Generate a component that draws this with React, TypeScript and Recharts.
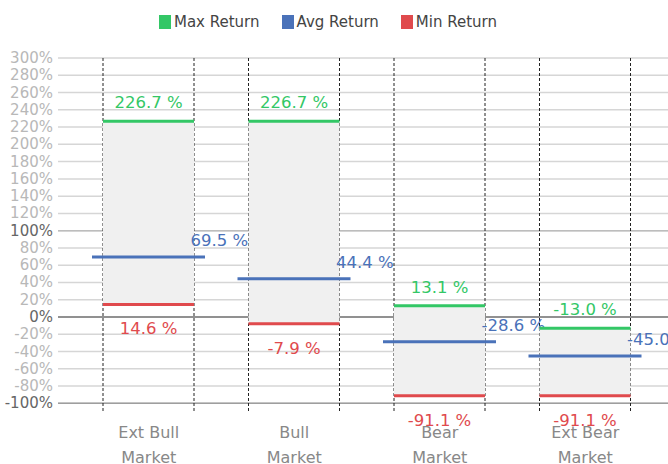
import React from "react";
import { ComposedChart, Bar, XAxis, YAxis, CartesianGrid, Legend } from "recharts";

// market regimes and their return stats (%)
const categories = ["Ext Bull Market", "Bull Market", "Bear Market", "Ext Bear Market"];
const maxReturn = [226.7, 226.7, 13.1, -13.0];
const avgReturn = [69.5, 44.4, -28.6, -45.0];
const minReturn = [14.6, -7.9, -91.1, -91.1];
const yTicks = [-100, -80, -60, -40, -20, 0, 20, 40, 60, 80, 100, 120, 140, 160, 180, 200, 220, 240, 260, 280, 300];
const legendNames = ["Max Return", "Avg Return", "Min Return"];

const GREEN = "#33c766";
const BLUE = "#4a72b9";
const RED = "#e04a4d";
const legendColors = [GREEN, BLUE, RED];

const data = categories.map((name, i) => ({
  name,
  max: maxReturn[i],
  avg: avgReturn[i],
  min: minReturn[i],
  range: [minReturn[i], maxReturn[i]],
}));

const fmt = (v: number) => `${v.toFixed(1)} %`;

const RangeBox = (props: any) => {
  const { x, y, width, height, payload } = props;
  const top = Math.min(y, y + height);
  const h = Math.abs(height);
  const bottom = top + h;
  const avgY = top + ((payload.max - payload.avg) / (payload.max - payload.min)) * h;
  const cx = x + width / 2;
  return (
    <g>
      <rect x={x} y={top} width={width} height={h} fill="#f0f0f0" />
      <line x1={x} x2={x + width} y1={top} y2={top} stroke={GREEN} strokeWidth={3} />
      <line x1={x} x2={x + width} y1={bottom} y2={bottom} stroke={RED} strokeWidth={3} />
      <line x1={x - 11} x2={x + width + 11} y1={avgY} y2={avgY} stroke={BLUE} strokeWidth={3} />
      <text x={cx} y={top - 13} textAnchor="middle" fill={GREEN} fontSize={16.5}>
        {fmt(payload.max)}
      </text>
      <text x={cx} y={bottom + 30} textAnchor="middle" fill={RED} fontSize={16.5}>
        {fmt(payload.min)}
      </text>
      <text x={cx + 42} y={avgY - 11} textAnchor="start" fill={BLUE} fontSize={16.5}>
        {fmt(payload.avg)}
      </text>
    </g>
  );
};

const DashedEdges = (props: any) => {
  const { x, y, width, height } = props;
  return (
    <g>
      <line x1={x} x2={x} y1={y} y2={y + height} stroke="#222" strokeDasharray="3 2" />
      <line x1={x + width} x2={x + width} y1={y} y2={y + height} stroke="#222" strokeDasharray="3 2" />
    </g>
  );
};

const YTick = (props: any) => {
  const { x, y, payload } = props;
  const v = payload.value;
  const dark = v === 0 || v === 100 || v === -100;
  return (
    <text x={x} y={y} dy={5} textAnchor="end" fontSize={15} fill={dark ? "#666" : "#b8b8b8"}>
      {`${v}%`}
    </text>
  );
};

const XTick = (props: any) => {
  const { x, y, payload } = props;
  const label: string = payload.value;
  const cut = label.lastIndexOf(" ");
  return (
    <text x={x} y={y} textAnchor="middle" fontSize={16} fill="#888">
      <tspan x={x} dy={18}>{label.slice(0, cut)}</tspan>
      <tspan x={x} dy={25}>{label.slice(cut + 1)}</tspan>
    </text>
  );
};

const LegendBox = () => (
  <div style={{ height: 46, display: "flex", justifyContent: "center", paddingRight: 12, boxSizing: "border-box" }}>
    {legendNames.map((n, i) => (
      <div
        key={n}
        style={{ display: "flex", alignItems: "center", height: 20, marginRight: i < legendNames.length - 1 ? 22 : 0 }}
      >
        <span style={{ width: 12, height: 14, background: legendColors[i], display: "inline-block", marginRight: 3 }} />
        <span style={{ fontSize: 15, color: "#444" }}>{n}</span>
      </div>
    ))}
  </div>
);

export default function App() {
  return (
    <div style={{ position: "absolute", left: 0, top: 0, fontFamily: "DejaVu Sans" }}>
      <ComposedChart
        width={668}
        height={464}
        data={data}
        margin={{ top: 12, right: 0, left: 0, bottom: 2 }}
        style={{ fontFamily: "DejaVu Sans" }}
      >
        <CartesianGrid vertical={false} horizontalValues={yTicks} stroke="#d6d6d6" strokeWidth={1.5} />
        <CartesianGrid vertical={false} horizontalValues={[100]} stroke="#bdbdbd" strokeWidth={1.5} />
        <CartesianGrid vertical={false} horizontalValues={[-100]} stroke="#9e9e9e" strokeWidth={1.5} />
        <CartesianGrid vertical={false} horizontalValues={[0]} stroke="#777" strokeWidth={1.5} />
        <XAxis
          dataKey="name"
          axisLine={false}
          tickLine={false}
          height={50}
          padding={{ left: 18, right: 10 }}
          tick={<XTick />}
          interval={0}
        />
        <YAxis
          domain={[-110, 300]}
          ticks={yTicks}
          width={58}
          axisLine={false}
          tickLine={false}
          tickSize={0}
          tickMargin={5}
          tick={<YTick />}
          interval={0}
        />
        <Legend verticalAlign="top" content={() => <LegendBox />} />
        <Bar
          dataKey="range"
          barSize={91}
          isAnimationActive={false}
          background={(p: any) => <DashedEdges key={`bg-${p.index}`} {...p} />}
          shape={(p: any) => <RangeBox {...p} />}
        />
      </ComposedChart>
    </div>
  );
}
